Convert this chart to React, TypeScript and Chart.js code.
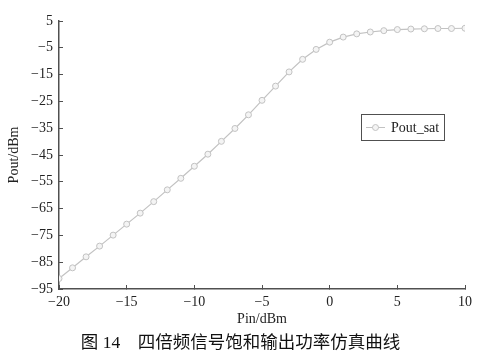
import React, { useEffect, useRef } from 'react';
import { Chart, registerables } from 'chart.js';

Chart.register(...registerables);

const pinDbm = [-20, -19, -18, -17, -16, -15, -14, -13, -12, -11, -10, -9, -8, -7, -6, -5, -4, -3, -2, -1, 0, 1, 2, 3, 4, 5, 6, 7, 8, 9, 10];
const poutSat = [-91.1, -87.1, -83.0, -79.0, -74.9, -70.8, -66.7, -62.4, -58.0, -53.7, -49.2, -44.7, -39.9, -35.1, -30.0, -24.6, -19.3, -14.0, -9.3, -5.6, -2.9, -1.0, 0.2, 0.9, 1.4, 1.8, 2.0, 2.1, 2.2, 2.2, 2.3];
const seriesLabel = 'Pout_sat';
const xTitle = 'Pin/dBm';
const yTitle = 'Pout/dBm';
const caption = '图 14\u3000四倍频信号饱和输出功率仿真曲线';

const SERIF = '"Liberation Serif", "Times New Roman", serif';
const LINE_COLOR = '#c2c2c2';
const AXIS_COLOR = '#505050';
const TEXT_COLOR = '#222222';

const minusFmt = (v: number | string) => String(v).replace('-', '\u2212');

const overlayPlugin = {
  id: 'overlay',
  afterDraw(chart: any) {
    const ctx = chart.ctx as CanvasRenderingContext2D;
    const ds = chart.data.datasets[0];
    ctx.save();
    // legend box
    ctx.strokeStyle = AXIS_COLOR;
    ctx.lineWidth = 1;
    ctx.strokeRect(361.5, 114.5, 83, 26);
    ctx.strokeStyle = ds.borderColor;
    ctx.beginPath();
    ctx.moveTo(366, 127.5);
    ctx.lineTo(385, 127.5);
    ctx.stroke();
    ctx.beginPath();
    ctx.arc(375.5, 127.5, 3, 0, Math.PI * 2);
    ctx.fillStyle = '#f4f4f4';
    ctx.fill();
    ctx.stroke();
    ctx.fillStyle = TEXT_COLOR;
    ctx.font = `14px ${SERIF}`;
    ctx.textBaseline = 'middle';
    ctx.textAlign = 'left';
    ctx.fillText(ds.label, 391, 128);
    // caption
    ctx.font = `17.5px "Liberation Serif", "Noto Sans CJK SC", sans-serif`;
    ctx.textAlign = 'center';
    ctx.fillStyle = '#111111';
    ctx.fillText(caption, 240.5, 343);
    ctx.restore();
  },
};

export default function App() {
  const ref = useRef<HTMLCanvasElement>(null);

  useEffect(() => {
    if (!ref.current) return;
    const chart = new Chart(ref.current, {
      type: 'line',
      data: {
        datasets: [
          {
            label: seriesLabel,
            data: pinDbm.map((x, i) => ({ x, y: poutSat[i] })),
            borderColor: LINE_COLOR,
            borderWidth: 1.2,
            pointRadius: 3,
            pointBorderWidth: 1,
            pointBorderColor: LINE_COLOR,
            pointBackgroundColor: '#f4f4f4',
            tension: 0,
          },
        ],
      },
      options: {
        responsive: false,
        animation: false,
        layout: { padding: { left: 0, top: 21, right: 25, bottom: 25 } },
        plugins: {
          legend: { display: false },
          tooltip: { enabled: false },
        },
        scales: {
          x: {
            type: 'linear',
            min: -20,
            max: 10,
            afterFit: (s: any) => { s.height = 45; },
            border: { color: AXIS_COLOR, width: 1.5 },
            grid: { drawOnChartArea: false, tickLength: -4, color: AXIS_COLOR, lineWidth: 1 },
            ticks: {
              stepSize: 5,
              padding: 9,
              color: TEXT_COLOR,
              font: { family: SERIF, size: 14 },
              callback: (v: any) => minusFmt(v),
            },
            title: {
              display: true,
              text: xTitle,
              color: TEXT_COLOR,
              font: { family: SERIF, size: 14 },
              padding: { top: 0, bottom: 6 },
            },
          },
          y: {
            type: 'linear',
            min: -95,
            max: 5,
            afterFit: (s: any) => { s.width = 59; },
            border: { color: AXIS_COLOR, width: 1.5 },
            grid: { drawOnChartArea: false, tickLength: -4, color: AXIS_COLOR, lineWidth: 1 },
            ticks: {
              stepSize: 10,
              padding: 10,
              color: TEXT_COLOR,
              font: { family: SERIF, size: 14 },
              callback: (v: any) => minusFmt(v),
            },
            title: {
              display: true,
              text: yTitle,
              color: TEXT_COLOR,
              font: { family: SERIF, size: 14 },
              padding: { top: 6, bottom: 0 },
            },
          },
        },
      },
      plugins: [overlayPlugin],
    } as any);
    return () => chart.destroy();
  }, []);

  return (
    <div style={{ position: 'fixed', left: 0, top: 0, width: 490, height: 359, background: '#ffffff' }}>
      <canvas ref={ref} width={490} height={359} style={{ width: 490, height: 359, display: 'block' }} />
    </div>
  );
}
